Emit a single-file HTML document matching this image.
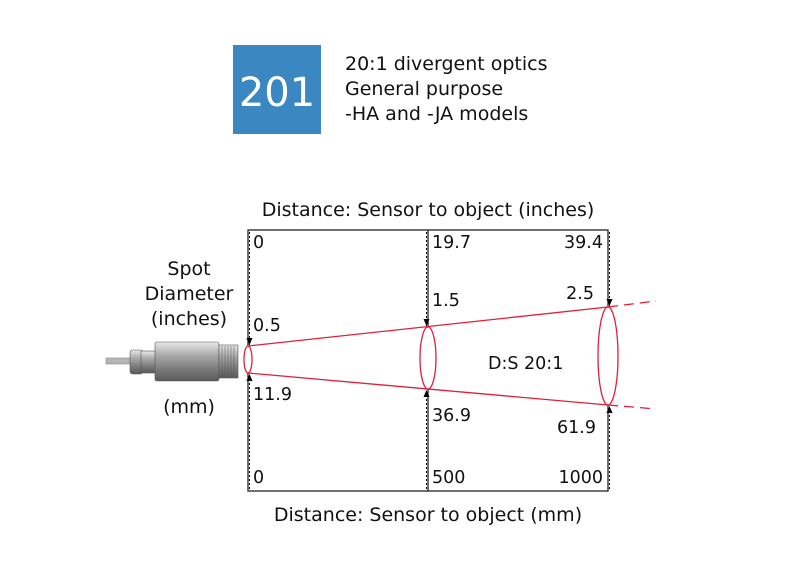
<!DOCTYPE html>
<html><head><style>
body{margin:0;width:800px;height:571px;background:#fff;overflow:hidden;font-family:"DejaVu Sans","Liberation Sans",sans-serif;}
</style></head><body>
<svg width="800" height="571" viewBox="0 0 800 571" xmlns="http://www.w3.org/2000/svg" font-family="DejaVu Sans, Liberation Sans, sans-serif">
<defs>
<linearGradient id="g" x1="0" y1="0" x2="0" y2="1">
<stop offset="0" stop-color="#e8e8e8"/><stop offset="0.35" stop-color="#a8a8a8"/><stop offset="0.7" stop-color="#7a7a7a"/><stop offset="1" stop-color="#5a5a5a"/>
</linearGradient>
<marker id="a" markerUnits="userSpaceOnUse" markerWidth="7" markerHeight="6" refX="7" refY="3" orient="auto"><path d="M0,0 L7,3 L0,6z" fill="#000"/></marker>
</defs>
<rect x="233" y="45" width="88" height="89" fill="#3a87c1"/>
<text x="277" y="106" font-size="40" fill="#fff" text-anchor="middle">201</text>
<text x="345" y="70" font-size="19" fill="#111">20:1 divergent optics</text>
<text x="345" y="95" font-size="19" fill="#111">General purpose</text>
<text x="345" y="120" font-size="19" fill="#111">-HA and -JA models</text>

<text x="428" y="216" font-size="19" fill="#111" text-anchor="middle">Distance: Sensor to object (inches)</text>
<text x="428" y="521" font-size="19" fill="#111" text-anchor="middle">Distance: Sensor to object (mm)</text>

<rect x="248" y="230" width="360" height="261" fill="none" stroke="#222" stroke-width="1.3"/>
<line x1="428" y1="230" x2="428" y2="491" stroke="#222" stroke-width="1.3"/>
<g stroke="#000" stroke-width="1" stroke-dasharray="2,2">
<line x1="249.5" y1="232" x2="249.5" y2="345" marker-end="url(#a)"/>
<line x1="249.5" y1="489" x2="249.5" y2="374" marker-end="url(#a)"/>
<line x1="426.5" y1="232" x2="426.5" y2="326" marker-end="url(#a)"/>
<line x1="426.5" y1="489" x2="426.5" y2="390" marker-end="url(#a)"/>
<line x1="609.5" y1="232" x2="609.5" y2="306" marker-end="url(#a)"/>
<line x1="609.5" y1="489" x2="609.5" y2="406" marker-end="url(#a)"/>
</g>
<g stroke="#e0203a" stroke-width="1.3" fill="none">
<line x1="248" y1="346" x2="608" y2="307"/>
<line x1="248" y1="373" x2="608" y2="405"/>
<line x1="608" y1="307" x2="656" y2="301" stroke-dasharray="10,6"/>
<line x1="608" y1="405" x2="656" y2="409" stroke-dasharray="10,6"/>
<ellipse cx="248" cy="359.5" rx="4" ry="13.5" fill="#fff"/>
<ellipse cx="428" cy="358" rx="8" ry="31" fill="#fff"/>
<ellipse cx="608" cy="356" rx="10" ry="49" fill="#fff"/>
</g>
<g font-size="17.5" fill="#111">
<text x="253" y="248">0</text>
<text x="432" y="248">19.7</text>
<text x="603" y="248" text-anchor="end">39.4</text>
<text x="253" y="331">0.5</text>
<text x="432" y="306">1.5</text>
<text x="594" y="299" text-anchor="end">2.5</text>
<text x="253" y="400">11.9</text>
<text x="432" y="421">36.9</text>
<text x="596" y="433" text-anchor="end">61.9</text>
<text x="253" y="483">0</text>
<text x="432" y="483">500</text>
<text x="603" y="483" text-anchor="end">1000</text>
<text x="488" y="369">D:S 20:1</text>
</g>
<g font-size="19" fill="#111">
<text x="189" y="275" text-anchor="middle">Spot</text>
<text x="189" y="300" text-anchor="middle">Diameter</text>
<text x="189" y="325" text-anchor="middle">(inches)</text>
<text x="189" y="413" text-anchor="middle">(mm)</text>
</g>
<rect x="106" y="358" width="28" height="6" fill="#b5b5b5" stroke="#888" stroke-width="0.6"/>
<rect x="130" y="350" width="13" height="24" rx="3" fill="url(#g)" stroke="#555" stroke-width="0.6"/>
<rect x="141" y="351" width="15" height="22" fill="url(#g)" stroke="#555" stroke-width="0.6"/>
<rect x="155" y="342" width="64" height="39" rx="2" fill="url(#g)" stroke="#555" stroke-width="0.6"/>
<rect x="219" y="345" width="19" height="33" fill="url(#g)" stroke="#555" stroke-width="0.6"/>
<g stroke="#555" stroke-width="0.5">
<line x1="222" y1="346" x2="222" y2="377"/><line x1="225" y1="346" x2="225" y2="377"/><line x1="228" y1="346" x2="228" y2="377"/><line x1="231" y1="346" x2="231" y2="377"/><line x1="234" y1="346" x2="234" y2="377"/>
</g>
</svg>
</body></html>
